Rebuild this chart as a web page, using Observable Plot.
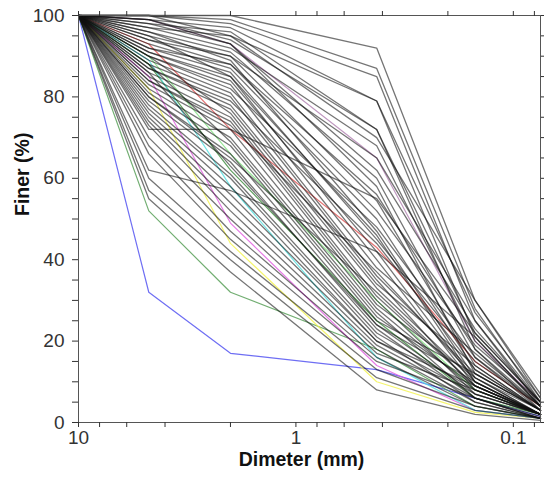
<!DOCTYPE html>
<html><head><meta charset="utf-8">
<script src="https://cdn.jsdelivr.net/npm/d3@7"></script>
<script src="https://cdn.jsdelivr.net/npm/@observablehq/plot@0.6"></script>
<style>body{margin:0;background:#fff;} #chart{width:544px;height:478px;}</style>
</head><body><div id="chart"></div>
<script>
// Sieve sizes (mm) at which each curve is sampled
const sieveSizes = [10, 4.75, 2, 0.425, 0.15, 0.075];

// Percent finer at sizes 4.75, 2, 0.425, 0.15, 0.075 (all curves are 100% at 10 mm)
const blackCurves = [
  [100,100,92,30,6],[100,99,87,28,5],[100,98,85,25,4],[99,97,79,27,6],[100,95,79,21,4],
  [98,96,72,22,5],[99,94,72,18,3],[97,92,68,20,4],[96,91,60,16,4],[95,90,54.5,14,3],
  [98,93,58,12,3],[94,88,52,19,5],[93,87,50,13,3],[96,89,47,11,2],[92,86,45,15,4],
  [91,84,42,10,2],[95,85,40,9,2],[90,83,38,17,4],[89,81,36,12,3],[72,72,55,22,5],
  [88,80,35,8,2],[87,78,34,14,3],[86,77,33,10,2],[90,76,31,9,2],[85,75,30,7,2],
  [84,74,29,11,3],[62,57,42,21,4],[83,72,28,8,2],[82,70,27,6,1.5],[88,69,26,9,2],
  [81,68,25,12,3],[80,66,24,7,2],[79,64,23,6,1],[86,63,24,10,2],[78,61,22,8,2],
  [77,60,21,5,1],[76,58,20,7,2],[75,56,20,9,2],[74,54,19,6,1],[73,52,18,5,1],
  [70,50,17,8,2],[68,47,16,4,1],[66,45,15,6,1],[60,42,13,4,1],[57,40,11,3,1],
  [55,37,8,2,0.5],[94,90,65,25,5],[97,95,70,30,7],[92,88,56,18,4],[99,93,62,23,5],
  [90,82,48,16,3],[87,79,44,13,3],[84,73,37,11,2],[91,85,46,10,2],[80,65,32,9,2]
];
const colorCurves = [
  [32,17,13,6,1.5],[52,32,18,4,1],[88,62,25,6,2],[90,66,30,8,2],
  [82,44,10,2.5,1],[85,49,14,3,1],[89,58,16,3,1],[93,72,43,15,4],[99,93,65,20,5]
];
const curveColors = ["#4a4af0","#4f9a4f","#3a8a3a","#7de07d","#f2f24a","#e05ae0","#4fe0e0","#e05050","#b080b0"];

const xTicks = [10,8,6,4,2,1,0.8,0.6,0.4,0.2,0.1,0.08];
const xTickLabels = [10,1,0.1];
const yTicks = d3.range(0,101,5);
const yTickLabels = [0,20,40,60,80,100];

function toRows(curves, colors, prefix) {
  const out = [];
  curves.forEach((c, i) => {
    const vals = [100, ...c];
    vals.forEach((p, j) => out.push({id: prefix + i, d: sieveSizes[j], p, color: colors ? colors[i] : "#000"}));
  });
  return out;
}
const blackRows = toRows(blackCurves, null, "b");
const colorRows = toRows(colorCurves, curveColors, "c");

const chart = Plot.plot({
  width: 544, height: 478,
  marginLeft: 78, marginRight: 4, marginTop: 15, marginBottom: 56,
  style: {fontFamily: "'Liberation Sans', Arial, sans-serif", fontSize: "19px", color: "#333", background: "#fff"},
  x: {type: "log", domain: [10, 0.075]},
  y: {domain: [0, 100]},
  color: {type: "identity"},
  marks: [
    Plot.line(colorRows, {x: "d", y: "p", z: "id", stroke: "color", strokeWidth: 1.2, strokeOpacity: 0.8}),
    Plot.line(blackRows, {x: "d", y: "p", z: "id", stroke: "#111", strokeWidth: 1.3, strokeOpacity: 0.58}),
    Plot.frame({stroke: "#555"}),
    Plot.axisX({anchor: "bottom", ticks: xTicks, tickFormat: d => xTickLabels.includes(d) ? String(d) : "", tickSize: 5, tickPadding: 3, label: null}),
    Plot.axisX({anchor: "top", ticks: xTicks, tickFormat: () => "", tickSize: 5, label: null}),
    Plot.axisY({anchor: "left", ticks: yTicks, tickFormat: d => yTickLabels.includes(d) ? String(d) : "", tickSize: 6, tickPadding: 8, label: null}),
    Plot.axisY({anchor: "right", ticks: yTicks, tickFormat: () => "", tickSize: 5, label: null}),
    Plot.text(["Dimeter (mm)"], {frameAnchor: "bottom", dy: 43, dx: -8, fontWeight: "bold", fontSize: 19.5, fill: "#111"}),
    Plot.text(["Finer (%)"], {frameAnchor: "left", dx: -56, dy: -3, rotate: -90, fontWeight: "bold", fontSize: 19.5, fill: "#111"})
  ]
});
document.getElementById("chart").appendChild(chart);
</script>
</body></html>
